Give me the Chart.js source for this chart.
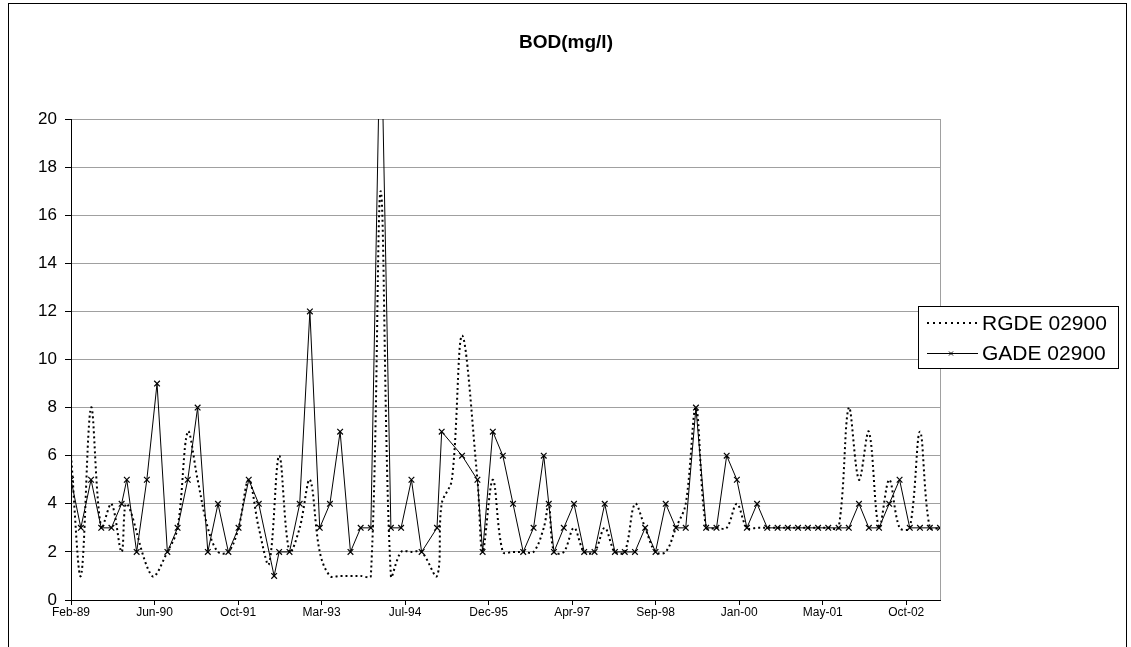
<!DOCTYPE html>
<html>
<head>
<meta charset="utf-8">
<title>BOD(mg/l)</title>
<script src="https://cdn.jsdelivr.net/npm/chart.js@4.4.1/dist/chart.umd.min.js"></script>
<style>
    html, body { margin: 0; padding: 0; background: #fff; }
    #wrap { position: relative; width: 1131px; height: 647px; overflow: hidden; }
    #frame { position: absolute; left: 8px; top: 3px; width: 1119px; height: 700px; border: 1px solid #000; box-sizing: border-box; }
    #chart { position: absolute; left: 0; top: 0; }
</style>
</head>
<body>
<div id="wrap">
    <div id="frame"></div>
    <canvas id="chart" width="1131" height="647"></canvas>
</div>
<script>
// ==========================================
// Data
// ==========================================
const rgdeDates = [
    '1989-02', '1989-04', '1989-06', '1989-08', '1989-10', '1989-12', '1990-01', '1990-06', '1990-09', '1990-11',
    '1991-01', '1991-03', '1991-05', '1991-07', '1991-09', '1991-11', '1992-01', '1992-03', '1992-05', '1992-07',
    '1992-09', '1992-11', '1993-01', '1993-03', '1993-05', '1993-07', '1993-09', '1993-11', '1994-01', '1994-03',
    '1994-05', '1994-07', '1994-09', '1994-11', '1995-02', '1995-03', '1995-05', '1995-07', '1995-10', '1995-11',
    '1996-01', '1996-03', '1996-05', '1996-07', '1996-09', '1996-11', '1996-12', '1997-01', '1997-03', '1997-05',
    '1997-07', '1997-09', '1997-11', '1998-01', '1998-03', '1998-05', '1998-07', '1998-09', '1998-11', '1999-01',
    '1999-03', '1999-05', '1999-07', '1999-09', '1999-11', '2000-01', '2000-03', '2000-05', '2000-07', '2000-09',
    '2000-11', '2001-01', '2001-03', '2001-05', '2001-07', '2001-09', '2001-11', '2002-01', '2002-03', '2002-05',
    '2002-07', '2002-09', '2002-11', '2003-01', '2003-03', '2003-05'
];
const rgdeValues = [
    6, 1, 8, 3, 4, 2, 4, 1, 2, 3,
    7, 5, 3, 2, 2, 3, 5, 3, 1.5, 6,
    2, 3, 5, 2, 1, 1, 1, 1, 1, 17,
    1, 2, 2, 2, 1, 4, 5, 11, 5, 2,
    5, 2, 2, 2, 2, 3, 4, 2, 2, 3,
    2, 2, 3, 2, 2, 4, 3, 2, 2, 3,
    4, 8, 3, 3, 3, 4, 3, 3, 3, 3,
    3, 3, 3, 3, 3, 3, 8, 5, 7, 3,
    5, 3, 3, 7, 3, 3
];

const gadeDates = [
    '1989-02', '1989-04', '1989-06', '1989-08', '1989-10', '1989-12', '1990-01', '1990-03', '1990-05', '1990-07',
    '1990-09', '1990-11', '1991-01', '1991-03', '1991-05', '1991-07', '1991-09', '1991-11', '1992-01', '1992-03',
    '1992-06', '1992-07', '1992-09', '1992-11', '1993-01', '1993-03', '1993-05', '1993-07', '1993-09', '1993-11',
    '1994-01', '1994-03', '1994-05', '1994-07', '1994-09', '1994-11', '1995-02', '1995-03', '1995-07', '1995-10',
    '1995-11', '1996-01', '1996-03', '1996-05', '1996-07', '1996-09', '1996-11', '1996-12', '1997-01', '1997-03',
    '1997-05', '1997-07', '1997-09', '1997-11', '1998-01', '1998-03', '1998-05', '1998-07', '1998-09', '1998-11',
    '1999-01', '1999-03', '1999-05', '1999-07', '1999-09', '1999-11', '2000-01', '2000-03', '2000-05', '2000-07',
    '2000-09', '2000-11', '2001-01', '2001-03', '2001-05', '2001-07', '2001-09', '2001-11', '2002-01', '2002-03',
    '2002-05', '2002-07', '2002-09', '2002-11', '2003-01', '2003-03', '2003-05'
];
const gadeValues = [
    5, 3, 5, 3, 3, 4, 5, 2, 5, 9,
    2, 3, 5, 8, 2, 4, 2, 3, 5, 4,
    1, 2, 2, 4, 12, 3, 4, 7, 2, 3,
    3, 25, 3, 3, 5, 2, 3, 7, 6, 5,
    2, 7, 6, 4, 2, 3, 6, 4, 2, 3,
    4, 2, 2, 4, 2, 2, 2, 3, 2, 4,
    3, 3, 8, 3, 3, 6, 5, 3, 4, 3,
    3, 3, 3, 3, 3, 3, 3, 3, 4, 3,
    3, 4, 5, 3, 3, 3, 3
];

const chartTitle = 'BOD(mg/l)';
const seriesNames = ['RGDE 02900', 'GADE 02900'];
// one label every 500 days, starting at Feb-89
const xTickLabels = ['Feb-89', 'Jun-90', 'Oct-91', 'Mar-93', 'Jul-94', 'Dec-95', 'Apr-97', 'Sep-98', 'Jan-00', 'May-01', 'Oct-02'];
const xTickStepDays = 500;
const yTicks = [0, 2, 4, 6, 8, 10, 12, 14, 16, 18, 20];

// ==========================================
// Helpers
// ==========================================
const DAY = 86400000;
const origin = Date.UTC(1989, 1, 1);
const FONT = '"Liberation Sans", Arial, sans-serif';

function toDays(s) {
    const [y, m] = s.split('-').map(Number);
    return (Date.UTC(y, m - 1, 1) - origin) / DAY;
}
function toPoints(dates, values) {
    return dates.map((d, i) => ({ x: toDays(d), y: values[i] }));
}
const lastDay = toDays(gadeDates[gadeDates.length - 1]);

// title centred on the whole picture + legend box that overlaps the plot, like the original
const decorations = {
    id: 'decorations',
    beforeDatasetsDraw(chart) {
        const { ctx, chartArea } = chart;
        ctx.save();
        ctx.strokeStyle = '#a0a0a0';
        ctx.lineWidth = 1;
        ctx.beginPath();
        ctx.moveTo(Math.round(chartArea.right) + 0.5, chartArea.top);
        ctx.lineTo(Math.round(chartArea.right) + 0.5, chartArea.bottom);
        ctx.stroke();
        ctx.restore();
    },
    afterDraw(chart) {
        const ctx = chart.ctx;
        ctx.save();

        ctx.fillStyle = '#000';
        ctx.font = 'bold 19px ' + FONT;
        ctx.textAlign = 'center';
        ctx.textBaseline = 'middle';
        ctx.fillText(chartTitle, 566, 43);

        const x = 918.5, y = 306.5, w = 200, h = 62;
        ctx.fillStyle = '#fff';
        ctx.fillRect(x, y, w, h);
        ctx.strokeStyle = '#000';
        ctx.lineWidth = 1;
        ctx.strokeRect(x, y, w, h);

        // RGDE sample
        ctx.setLineDash([2, 4]);
        ctx.lineWidth = 2;
        ctx.beginPath();
        ctx.moveTo(927, 323);
        ctx.lineTo(978, 323);
        ctx.stroke();
        ctx.setLineDash([]);

        // GADE sample
        ctx.lineWidth = 1;
        ctx.beginPath();
        ctx.moveTo(927, 353.5);
        ctx.lineTo(978, 353.5);
        ctx.moveTo(949, 351.5); ctx.lineTo(953, 355.5);
        ctx.moveTo(953, 351.5); ctx.lineTo(949, 355.5);
        ctx.stroke();

        ctx.fillStyle = '#000';
        ctx.font = '21px ' + FONT;
        ctx.textAlign = 'left';
        ctx.fillText(seriesNames[0], 982, 324);
        ctx.fillText(seriesNames[1], 982, 354);
        ctx.restore();
    }
};

document.addEventListener('DOMContentLoaded', () => {
    const ctx = document.getElementById('chart').getContext('2d');
    new Chart(ctx, {
        type: 'line',
        data: {
            datasets: [
                {
                    label: seriesNames[0],
                    data: toPoints(rgdeDates, rgdeValues),
                    borderColor: '#000',
                    borderWidth: 2,
                    borderDash: [2, 3],
                    pointRadius: 0,
                    tension: 0.35,
                    fill: false
                },
                {
                    label: seriesNames[1],
                    data: toPoints(gadeDates, gadeValues),
                    borderColor: '#000',
                    borderWidth: 1,
                    pointStyle: 'crossRot',
                    pointRadius: 4,
                    pointBorderWidth: 1.2,
                    pointBorderColor: '#000',
                    tension: 0,
                    fill: false
                }
            ]
        },
        options: {
            responsive: false,
            animation: false,
            layout: { padding: { left: 0, right: 191, top: 119, bottom: 0 } },
            plugins: {
                legend: { display: false },
                tooltip: { enabled: false },
                title: { display: false }
            },
            scales: {
                x: {
                    type: 'linear',
                    min: 0,
                    max: lastDay,
                    afterBuildTicks: axis => {
                        axis.ticks = xTickLabels.map((_, i) => ({ value: i * xTickStepDays }));
                    },
                    afterFit: axis => { axis.height = 47; },
                    ticks: {
                        color: '#000',
                        padding: 0,
                        maxRotation: 0,
                        autoSkip: false,
                        font: { family: FONT, size: 12 },
                        callback: (v, i) => xTickLabels[i]
                    },
                    grid: { display: true, drawOnChartArea: false, drawTicks: true, tickLength: 5, color: '#000' },
                    border: { color: '#000', width: 1 }
                },
                y: {
                    min: 0,
                    max: 20,
                    afterBuildTicks: axis => {
                        axis.ticks = yTicks.map(v => ({ value: v }));
                    },
                    afterFit: axis => { axis.width = 71; },
                    ticks: {
                        color: '#000',
                        padding: 8,
                        font: { family: FONT, size: 17 }
                    },
                    grid: { color: '#a0a0a0', tickLength: 6, tickColor: '#000' },
                    border: { color: '#000', width: 1 }
                }
            }
        },
        plugins: [decorations]
    });
});
</script>
</body>
</html>
